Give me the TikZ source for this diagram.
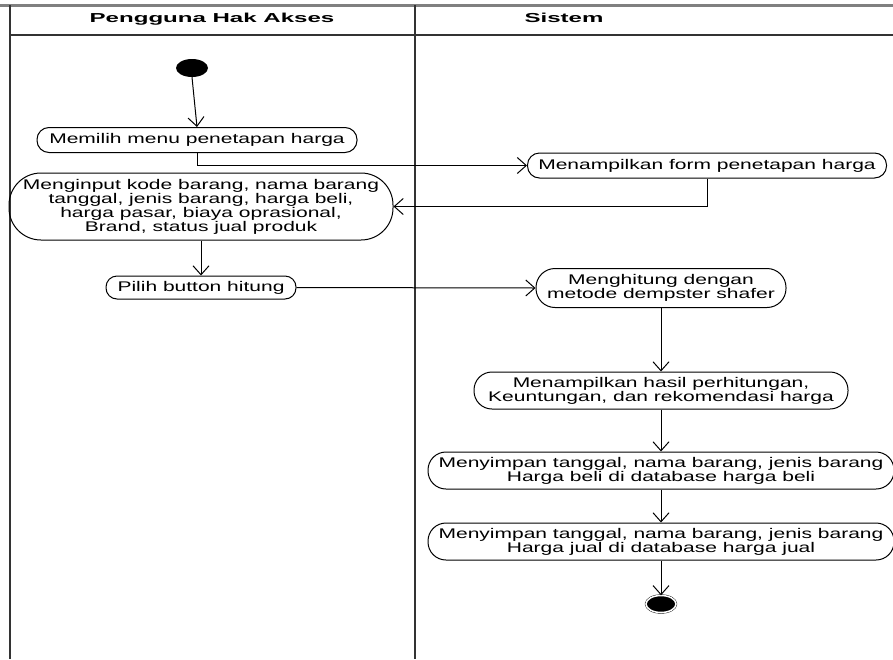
\documentclass[tikz,border=0pt]{standalone}
\usepackage{fontspec}
\setmainfont[FakeStretch=1.5]{Liberation Sans}
\newfontfamily\lanefont[FakeStretch=1.85]{Liberation Sans}
\usetikzlibrary{positioning, shapes.geometric, arrows.meta}

\begin{document}
\begin{tikzpicture}[
  x=1pt, y=-1pt,
  font=\fontsize{14}{13}\selectfont,
  lane/.style={line width=1.2pt, color=black!80},
  lanetitle/.style={font=\lanefont\bfseries\fontsize{13}{13}\selectfont},
  activity/.style={draw, line width=1pt, align=center, inner sep=0pt, rounded corners=12pt},
  startnode/.style={ellipse, fill=black, minimum width=32pt, minimum height=18pt, inner sep=0pt},
  endnode/.style={ellipse, draw, double, double distance=1.5pt, fill=black, minimum width=30pt, minimum height=17pt, inner sep=0pt},
  arrow/.style={-{Straight Barb[length=9pt, width=16pt]}, line width=1pt}
]
\useasboundingbox (0,0) rectangle (893,659);

% --- Swimlanes ---
\draw[lane, color=black!50, line width=3pt] (0,5) -- (893,5);
\draw[lane] (10,5) -- (10,659);
\draw[lane] (415,5) -- (415,659);
\draw[lane] (10,35) -- (893,35);
\node[lanetitle] (user) at (212,19) {Pengguna Hak Akses};
\node[lanetitle] (system) at (564,18) {Sistem};

% --- Pengguna Hak Akses ---
\node[startnode] (start) at (192,68) {};
\node[activity, minimum width=320pt, minimum height=25pt] (pilihmenu) at (197,140) {Memilih menu penetapan harga};
\node[activity, rounded corners=32pt, minimum width=384pt, minimum height=67pt] (input) at (201,206.5) {Menginput kode barang, nama barang\\ tanggal, jenis barang, harga beli,\\ harga pasar, biaya oprasional,\\ Brand, status jual produk};
\node[activity, rounded corners=11pt, minimum width=190pt, minimum height=23pt] (hitung) at (201,287.5) {Pilih button hitung};

% --- Sistem ---
\node[activity, minimum width=359pt, minimum height=25pt] (tampilform) at (707,165.5) {Menampilkan form penetapan harga};
\node[activity, rounded corners=19pt, minimum width=250pt, minimum height=39pt] (proses) at (661,288) {Menghitung dengan\\ metode dempster shafer};
\node[activity, rounded corners=18pt, minimum width=374pt, minimum height=37pt] (hasil) at (661,390.5) {Menampilkan hasil perhitungan,\\ Keuntungan, dan rekomendasi harga};
\node[activity, rounded corners=18pt, minimum width=466pt, minimum height=37pt] (simpanbeli) at (661,470.5) {Menyimpan tanggal, nama barang, jenis barang\\ Harga beli di database harga beli};
\node[activity, rounded corners=18pt, minimum width=466pt, minimum height=37pt] (simpanjual) at (661,541.5) {Menyimpan tanggal, nama barang, jenis barang\\ Harga jual di database harga jual};
\node[endnode] (end) at (661,604) {};

% --- Flows ---
\draw[arrow] (start.south) -- (pilihmenu.north);
\draw[arrow] (pilihmenu.south) |- (tampilform.west);
\draw[arrow] (tampilform.south) |- (input.east);
\draw[arrow] (input.south) -- (hitung.north);
\draw[arrow] (hitung.east) -- (proses.west);
\draw[arrow] (proses.south) -- (hasil.north);
\draw[arrow] (hasil.south) -- (simpanbeli.north);
\draw[arrow] (simpanbeli.south) -- (simpanjual.north);
\draw[arrow] (simpanjual.south) -- (end.north);

\end{tikzpicture}
\end{document}
